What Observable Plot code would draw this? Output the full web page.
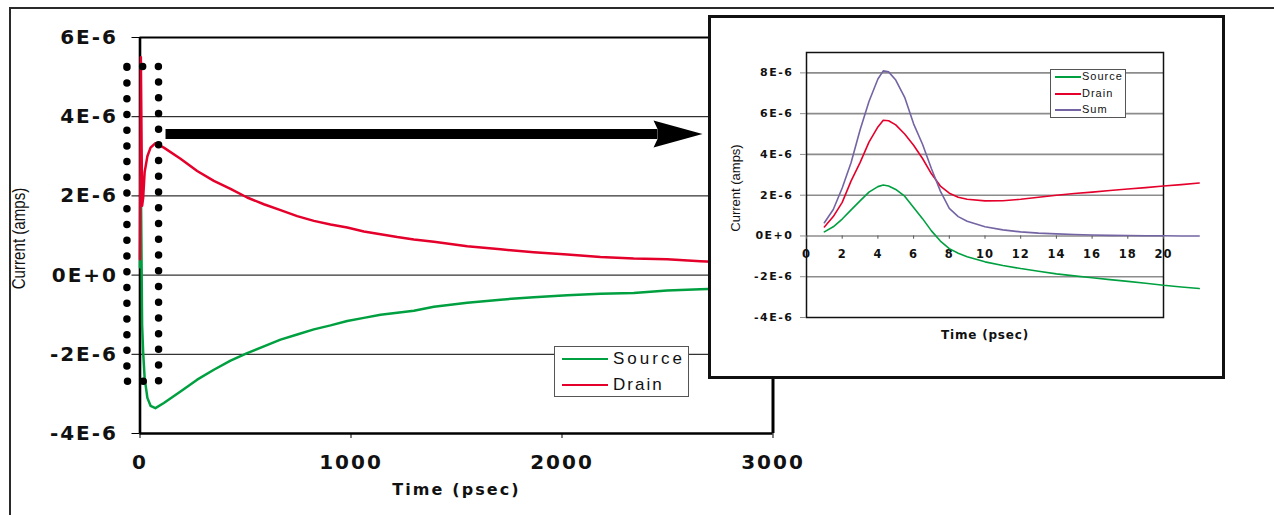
<!DOCTYPE html>
<html><head><meta charset="utf-8">
<script src="https://cdn.jsdelivr.net/npm/d3@7"></script>
<script src="https://cdn.jsdelivr.net/npm/@observablehq/plot@0.6"></script>
<style>
html,body{margin:0;padding:0;background:#fff;}
#wrap{position:relative;width:1274px;height:515px;overflow:hidden;background:#fff;}
#outer{position:absolute;left:9px;top:7px;width:1300px;height:600px;border-top:2px solid #2a2a2a;border-left:2px solid #2a2a2a;}
#main{position:absolute;left:0;top:0;}
#inset{position:absolute;left:708px;top:15px;width:517px;height:364px;box-sizing:border-box;border:3px solid #111;background:#fff;}
#inset svg{position:absolute;left:0;top:0;overflow:visible;}
#main svg{overflow:visible;}
.legend{position:absolute;background:#fff;border:1px solid #555;box-sizing:border-box;font-family:"Liberation Sans",Arial,sans-serif;color:#111;}
.legend .sw{position:absolute;}
.legend .lab{position:absolute;white-space:nowrap;line-height:1;}
.mainplot g[aria-label="y-axis tick label"], .mainplot g[aria-label="x-axis tick label"]{font-family:"DejaVu Sans",sans-serif;font-weight:bold;font-size:20px;letter-spacing:2px;fill:#111;}
.insetplot g[aria-label="y-axis tick label"]{font-family:"DejaVu Sans",sans-serif;font-weight:bold;font-size:11px;letter-spacing:1.5px;fill:#111;}
</style>
</head><body>
<div id="wrap">
  <div id="outer"></div>
  <div id="main"></div>
  <div id="mainLegend" class="legend" style="left:554px;top:346px;width:135px;height:51px;"></div>
  <div id="inset"><div id="insetLegend" class="legend" style="left:339px;top:51px;width:76px;height:49px;"></div></div>
</div>
<script>
// ---------- data (current in units of 1E-6 A, time in psec) ----------
const mainTime   = [0, 4, 10, 15, 22, 35, 50, 73, 113, 192, 271, 350, 429, 508, 587, 666, 745, 824, 903, 982, 1061, 1140, 1219, 1298, 1393, 1551, 1709, 1866, 2025, 2182, 2340, 2498, 2656, 2800, 3000];
const mainSource = [0.2, 2.5, -1.26, -1.95, -2.6, -3.1, -3.3, -3.36, -3.23, -2.94, -2.64, -2.39, -2.16, -1.97, -1.8, -1.63, -1.5, -1.37, -1.27, -1.16, -1.08, -1.0, -0.95, -0.9, -0.8, -0.7, -0.62, -0.56, -0.51, -0.47, -0.45, -0.39, -0.36, -0.33, -0.3];
const mainDrain  = [0.4, 5.5, 1.75, 1.95, 2.6, 3.0, 3.22, 3.33, 3.22, 2.94, 2.63, 2.38, 2.18, 1.96, 1.79, 1.64, 1.49, 1.37, 1.28, 1.2, 1.1, 1.03, 0.96, 0.9, 0.84, 0.73, 0.65, 0.58, 0.52, 0.46, 0.42, 0.4, 0.35, 0.32, 0.29];

const insetTime   = [1, 1.5, 2, 2.5, 3, 3.5, 4, 4.3, 4.6, 5, 5.5, 6, 6.5, 7, 7.5, 8, 8.5, 9, 10, 11, 12, 13, 14, 15, 16, 17, 18, 19, 20, 21, 22];
const insetSource = [0.2, 0.45, 0.83, 1.28, 1.72, 2.15, 2.42, 2.5, 2.45, 2.28, 1.95, 1.4, 0.85, 0.25, -0.25, -0.62, -0.85, -1.02, -1.27, -1.45, -1.6, -1.73, -1.86, -1.96, -2.05, -2.14, -2.23, -2.32, -2.42, -2.5, -2.58];
const insetDrain  = [0.44, 0.95, 1.65, 2.7, 3.6, 4.6, 5.35, 5.68, 5.65, 5.45, 5.0, 4.45, 3.8, 3.05, 2.45, 2.1, 1.9, 1.8, 1.72, 1.73, 1.8, 1.9, 2.0, 2.08, 2.15, 2.23, 2.3, 2.37, 2.45, 2.52, 2.6];
const insetSum    = [0.65, 1.3, 2.35, 3.6, 5.2, 6.6, 7.7, 8.1, 8.05, 7.65, 6.8, 5.5, 4.5, 3.3, 2.2, 1.35, 0.95, 0.72, 0.45, 0.3, 0.2, 0.14, 0.1, 0.07, 0.05, 0.03, 0.02, 0.01, 0.01, 0, 0];

const seriesNames  = ["Source", "Drain", "Sum"];
const seriesColors = ["#00a040", "#e4002b", "#7464a4"];

const mainYTicks  = [-4, -2, 0, 2, 4, 6];
const mainYLabels = ["-4E-6", "-2E-6", "0E+0", "2E-6", "4E-6", "6E-6"];
const mainGrid    = [-2, 0, 2, 4];
const mainXTicks  = [0, 1000, 2000, 3000];
const mainXLabels = ["0", "1000", "2000", "3000"];

const insetYTicks  = [-4, -2, 0, 2, 4, 6, 8];
const insetYLabels = ["-4E-6", "-2E-6", "0E+0", "2E-6", "4E-6", "6E-6", "8E-6"];
const insetGrid    = [-2, 0, 2, 4, 6, 8];
const insetXTicks  = [0, 2, 4, 6, 8, 10, 12, 14, 16, 18, 20];
const insetXLabels = ["0", "2", "4", "6", "8", "10", "12", "14", "16", "18", "20"];

const xTitle = "Time (psec)";
const yTitle = "Current (amps)";

// annotations (data coordinates)
const zoomBoxT = [-62, 88];
const zoomBoxV = [-2.68, 5.27];
const arrowT = [121, 2452, 2666];   // shaft start, shaft end, tip
const arrowV = 3.56;

// ---------- build tables ----------
const mainSrc = mainTime.map((t, i) => ({t, v: mainSource[i]}));
const mainDrn = mainTime.map((t, i) => ({t, v: mainDrain[i]}));
const insetSeries = [insetSource, insetDrain, insetSum].map(arr => insetTime.map((t, i) => ({t, v: arr[i]})));
const boxPath = [
  {t: zoomBoxT[0], v: zoomBoxV[1]}, {t: zoomBoxT[1], v: zoomBoxV[1]},
  {t: zoomBoxT[1], v: zoomBoxV[0]}, {t: zoomBoxT[0], v: zoomBoxV[0]},
  {t: zoomBoxT[0], v: zoomBoxV[1]}
];
const arrowHead = {
  draw(ctx) {
    ctx.moveTo(0, 0); ctx.lineTo(-49, -13.5); ctx.lineTo(-45, -5);
    ctx.lineTo(-45, 5); ctx.lineTo(-49, 13.5); ctx.closePath();
  }
};

const main = Plot.plot({
  className: "mainplot",
  width: 1274, height: 515,
  marginLeft: 139.5, marginRight: 501.5, marginTop: 37, marginBottom: 82,
  x: {domain: [0, 3000]},
  y: {domain: [-4, 6]},
  style: {background: "transparent", color: "#000"},
  marks: [
    Plot.ruleY(mainGrid, {stroke: "#000", strokeWidth: 1}),
    Plot.ruleY([mainYTicks[mainYTicks.length - 1]], {stroke: "#000", strokeWidth: 1.8}),
    Plot.ruleX([mainXTicks[mainXTicks.length - 1]], {stroke: "#000", strokeWidth: 3}),
    Plot.axisY({ticks: mainYTicks, tickFormat: d => mainYLabels[mainYTicks.indexOf(d)], tickSize: 8, tickPadding: 14, label: null}),
    Plot.axisX({ticks: mainXTicks, tickFormat: d => mainXLabels[mainXTicks.indexOf(d)], tickSize: 5, tickPadding: 16, label: null}),
    Plot.ruleX([mainXTicks[0]], {stroke: "#000", strokeWidth: 2.6}),
    Plot.ruleY([mainYTicks[0]], {stroke: "#000", strokeWidth: 2.6}),
    Plot.line(mainSrc, {x: "t", y: "v", stroke: seriesColors[0], strokeWidth: 2.5}),
    Plot.line(mainDrn, {x: "t", y: "v", stroke: seriesColors[1], strokeWidth: 2.5}),
    Plot.line(boxPath, {x: "t", y: "v", stroke: "#000", strokeWidth: 7.5, strokeLinecap: "round", strokeDasharray: "0 15.73"}),
    Plot.line([{t: arrowT[0], v: arrowV}, {t: arrowT[1], v: arrowV}], {x: "t", y: "v", stroke: "#000", strokeWidth: 10, strokeLinecap: "butt"}),
    Plot.dot([{t: arrowT[2], v: arrowV}], {x: "t", y: "v", symbol: arrowHead, fill: "#000", stroke: null, r: 5}),
    Plot.text([xTitle], {frameAnchor: "bottom", dy: 61, fontFamily: "DejaVu Sans", fontWeight: "bold", fontSize: 16, fill: "#111"}),
    Plot.text([yTitle], {frameAnchor: "left", textAnchor: "middle", dx: -121, dy: 3, rotate: -90, fontFamily: "Liberation Sans, Arial, sans-serif", fontSize: 18, fill: "#111"})
  ]
});
document.getElementById("main").appendChild(main);

const inset = Plot.plot({
  className: "insetplot",
  width: 511, height: 358,
  marginLeft: 95, marginRight: 59, marginTop: 34, marginBottom: 59,
  x: {domain: [0, 20], axis: null},
  y: {domain: [-4, 9]},
  style: {background: "transparent", color: "#000"},
  marks: [
    Plot.ruleY(insetGrid, {stroke: "#8c8c8c", strokeWidth: 1.6}),
    Plot.frame({stroke: "#111", strokeWidth: 1.5}),
    Plot.axisY({ticks: insetYTicks, tickFormat: d => insetYLabels[insetYTicks.indexOf(d)], tickSize: 6, tickPadding: 7, stroke: "#8c8c8c", label: null}),
    Plot.ruleX(insetXTicks, {y1: 0, y2: -0.16, stroke: "#555", strokeWidth: 1}),
    Plot.text(insetXTicks, {x: d => d, y: 0, dy: 18, text: d => insetXLabels[insetXTicks.indexOf(d)], fontFamily: "DejaVu Sans", fontWeight: "bold", fontSize: 11.5, fill: "#111"}),
    ...insetSeries.map((s, i) => Plot.line(s, {x: "t", y: "v", stroke: seriesColors[i], strokeWidth: 1.6})),
    Plot.text([xTitle], {frameAnchor: "bottom", dy: 21, fontFamily: "DejaVu Sans", fontWeight: "bold", fontSize: 12, fill: "#111"}),
    Plot.text([yTitle], {frameAnchor: "left", textAnchor: "middle", dx: -71, dy: 3, rotate: -90, fontFamily: "Liberation Sans, Arial, sans-serif", fontSize: 13, fill: "#111"})
  ]
});
document.getElementById("inset").insertBefore(inset, document.getElementById("insetLegend"));

// text fine-tuning: spacing of titles, condensed main y title (narrow font in the original)
main.querySelectorAll("text").forEach(t => {
  if (t.textContent === xTitle) t.style.letterSpacing = "2.1px";
  if (t.textContent === yTitle) {
    const tr = t.getAttribute("transform") || "";
    t.setAttribute("transform", tr + " scale(0.84,1)");
  }
});
inset.querySelectorAll("text").forEach(t => {
  if (t.textContent === xTitle) t.style.letterSpacing = "0.8px";
  if (insetXLabels.includes(t.textContent) && t.closest('g[aria-label="text"]')) t.style.letterSpacing = "1px";
});

// ---------- legends ----------
function buildLegend(el, n, cfg) {
  for (let i = 0; i < n; i++) {
    const y = cfg.rows[i];
    const sw = document.createElement("div");
    sw.className = "sw";
    sw.style.cssText = `left:${cfg.x0}px;width:${cfg.x1 - cfg.x0}px;top:${y - 1}px;background:${seriesColors[i]};height:${cfg.lw}px;`;
    el.appendChild(sw);
    const lab = document.createElement("div");
    lab.className = "lab";
    lab.textContent = seriesNames[i];
    lab.style.cssText = `left:${cfg.tx}px;top:${y - cfg.fs * 0.55}px;font-size:${cfg.fs}px;letter-spacing:${cfg.ls[i]}px;`;
    el.appendChild(lab);
  }
}
buildLegend(document.getElementById("mainLegend"), 2, {rows: [12, 38], x0: 7, x1: 53, tx: 58, fs: 17, lw: 2.2, ls: [3, 2]});
buildLegend(document.getElementById("insetLegend"), 3, {rows: [7, 24, 40], x0: 4, x1: 30, tx: 31, fs: 11, lw: 1.6, ls: [1, 1, 1]});
</script>
</body></html>
